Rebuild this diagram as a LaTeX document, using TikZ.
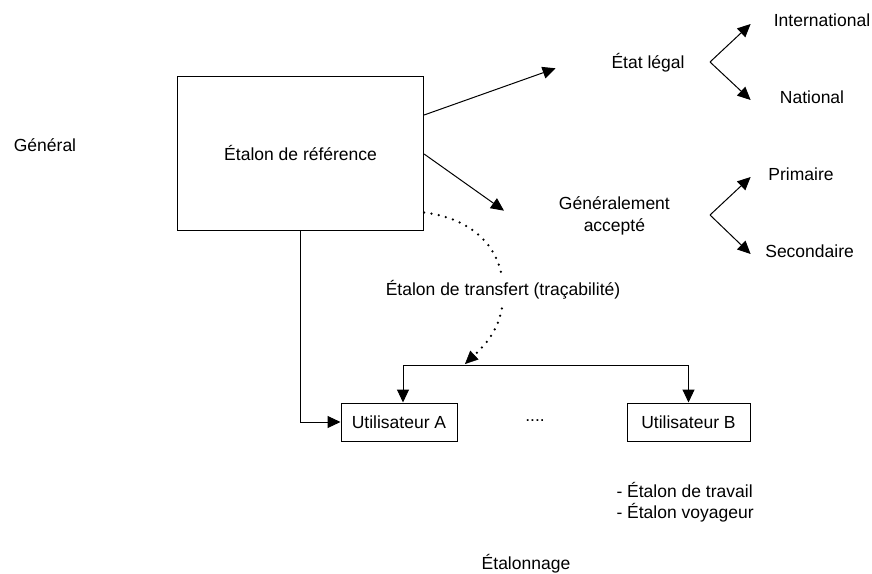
\documentclass[tikz,border=0pt]{standalone}
\usepackage{fontspec}
\setmainfont{Liberation Sans}
\usetikzlibrary{arrows.meta}
\begin{document}
\begin{tikzpicture}[x=1pt,y=-1pt,
  font=\fontsize{17.5}{21.4}\selectfont,
  line width=1pt,
  conn/.style={-{Triangle[length=13pt,width=12pt]}},
  lbl/.style={anchor=base, inner sep=0pt},
  boxnode/.style={draw, inner sep=0pt},
  dotline/.style={line width=2.5pt, line cap=round, dash pattern=on 0pt off 7.4pt}]
\useasboundingbox[fill=white] (0,0) rectangle (872,573);

% main box
\node[boxnode, minimum width=246pt, minimum height=154pt] (ref) at (300.6,153) {Étalon de référence};
\node[lbl] (gen) at (45,151) {Général};

% upper branch
\coordinate (tip1) at (555.6,68.3);
\coordinate (tip2) at (504,210.7);
\draw[conn] ([yshift=38pt]ref.east) -- (tip1);
\draw[conn] ([yshift=-1pt]ref.east) -- (tip2);

\node[lbl] (legal) at (648,68) {État légal};
\coordinate (v1) at (710,62);
\coordinate (v1a) at (750.6,24);
\coordinate (v1b) at (750.6,100);
\draw[conn] (v1) -- (v1a);
\draw[conn] (v1) -- (v1b);
\node[lbl] (intl) at (822,26) {International};
\node[lbl] (natl) at (812,103) {National};

\node[align=center, inner sep=0pt] (acc) at (614.4,216) {Généralement\\accepté};
\coordinate (v2) at (710,215);
\coordinate (v2a) at (750.6,177);
\coordinate (v2b) at (750.6,254);
\draw[conn] (v2) -- (v2a);
\draw[conn] (v2) -- (v2b);
\node[lbl] (prim) at (801,180) {Primaire};
\node[lbl] (sec) at (809.6,257) {Secondaire};

% users
\node[boxnode, minimum width=116pt, minimum height=38pt] (ua) at (399,422) {Utilisateur A};
\node[boxnode, minimum width=123pt, minimum height=38pt] (ub) at (688.5,422) {Utilisateur B};
\node[lbl] (dots) at (535,421) {....};

\draw[conn] (ref.south) |- (ua.west);

\coordinate (barL) at (403,365);
\coordinate (barR) at (688.5,365);
\draw (barL) -- (barR);
\draw[conn] (barL) -- (barL |- ua.north);
\draw[conn] (barR) -- (barR |- ub.north);

% dotted transfer curve
\coordinate (tend) at (465,364);
\draw[dotline, -{Triangle[length=13pt,width=12pt,line width=0.5pt]}]
  ([yshift=18pt]ref.south east) .. controls (470,218) and (500,245) .. (503,285)
  .. controls (506,325) and (485,345) .. (tend);
\node[fill=white, inner xsep=0pt, inner ysep=4pt, anchor=base] (tr) at (503,295) {Étalon de transfert (traçabilité)};

\node[align=left, inner sep=0pt, anchor=west] (etw) at (616,502) {- Étalon de travail\\- Étalon voyageur};
\node[lbl] (etal) at (526,569) {Étalonnage};
\end{tikzpicture}
\end{document}
